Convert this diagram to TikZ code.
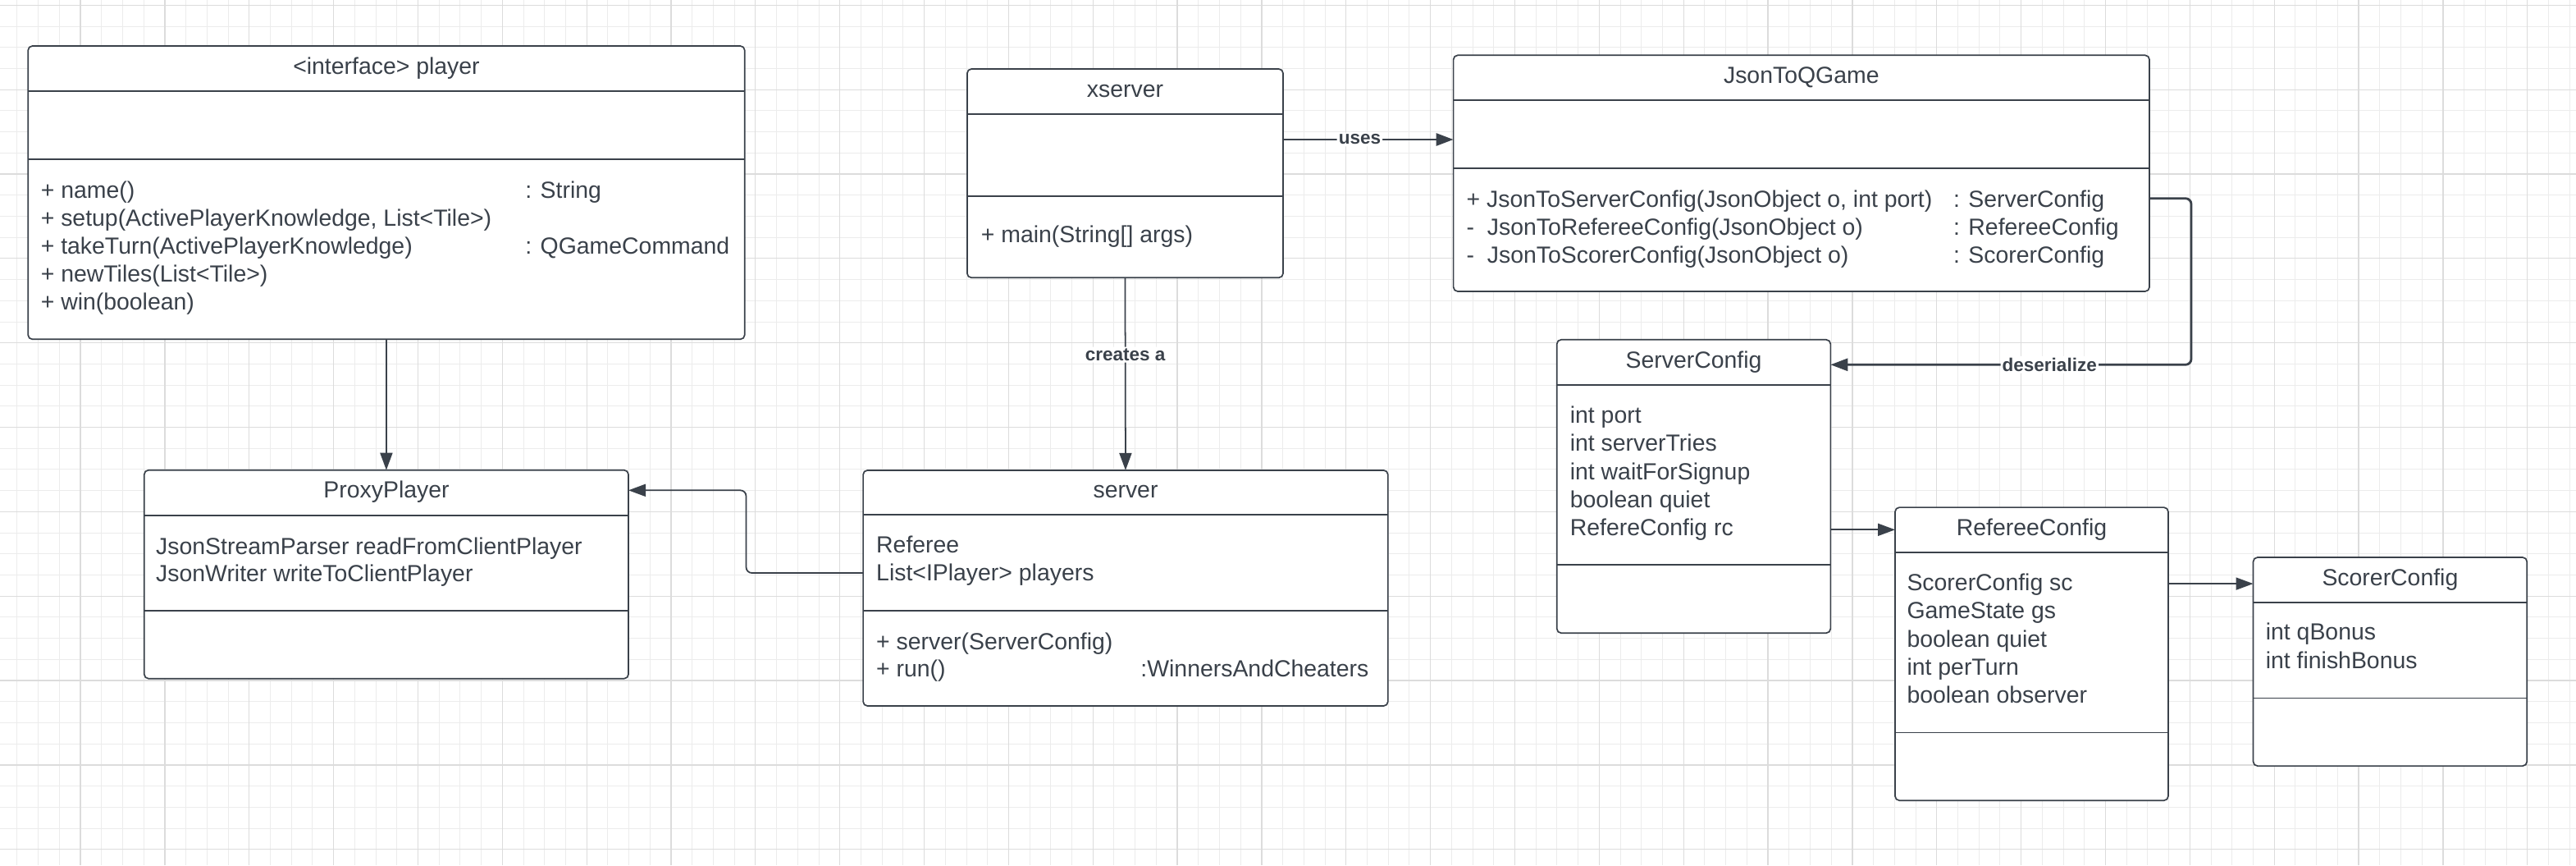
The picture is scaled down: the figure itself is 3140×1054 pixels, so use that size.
\documentclass[tikz,border=0pt]{standalone}
\usepackage{fontspec}
\setmainfont{Liberation Sans}
\usetikzlibrary{arrows.meta}

\definecolor{ink}{HTML}{3A414A}
\definecolor{gridminor}{HTML}{ECECEC}
\definecolor{gridmajor}{HTML}{DCDCDC}

\tikzset{
  classbox/.style={draw=ink, fill=white, line width=0.48pt, rounded corners=1.5pt,
                   inner sep=0pt, outer sep=0pt},
  boxrule/.style={draw=ink, line width=0.48pt},
  txt/.style={text=ink, inner sep=0pt, outer sep=0pt, font=\fontsize{8.08}{9.7}\selectfont},
  ttl/.style={txt, anchor=base},
  row/.style={txt, anchor=base west},
  lbl/.style={text=ink, fill=white, inner sep=0.6pt, font=\bfseries\fontsize{6.4}{7.7}\selectfont},
  conn/.style={draw=ink, line width=0.5pt, rounded corners=2pt,
               -{Triangle[length=5.97pt,width=4.27pt]}},
  boldconn/.style={conn, line width=0.8pt},
  minorline/.style={draw=gridminor, line width=0.28pt},
  majorline/.style={draw=gridmajor, line width=0.36pt},
}

% class box: name, left, top, right, bottom, first rule, second rule
\newcommand{\umlclass}[7]{%
  \pgfmathsetmacro{\bw}{(#4-#2)*0.01}%
  \pgfmathsetmacro{\bh}{(#5-#3)*0.01}%
  \node[classbox, anchor=north west, minimum width=\bw cm, minimum height=\bh cm] (#1) at (#2,#3) {};
  \draw[boxrule] (#1.west |- 0,#6) -- (#1.east |- 0,#6);
  \draw[boxrule] (#1.west |- 0,#7) -- (#1.east |- 0,#7);
}

\begin{document}
\begin{tikzpicture}[x=0.01cm, y=-0.01cm]
\useasboundingbox (0,0) rectangle (3140,1054);
\fill[white] (0,0) rectangle (3140,1054);

% background grid
\foreach \i in {0,...,122} \draw[minorline] ({-4.8+25.7125*\i},0) -- ({-4.8+25.7125*\i},1054);
\foreach \j in {0,...,41} \draw[minorline] (0,{6.3+25.7125*\j}) -- (3140,{6.3+25.7125*\j});
\foreach \i in {0,...,31} \draw[majorline] ({-4.8+102.85*\i},0) -- ({-4.8+102.85*\i},1054);
\foreach \j in {0,...,10} \draw[majorline] (0,{6.3+102.85*\j}) -- (3140,{6.3+102.85*\j});

% ---- classes ----
\umlclass{player}{34.2}{56}{907.7}{413.3}{111}{194}
\node[ttl] (player-t) at (471,90) {<interface> player};
\node[row] (player-m1) at (49.8,241) {+ name()};
\node[row] (player-m2) at (49.8,275.2) {+ setup(ActivePlayerKnowledge, List<Tile>)};
\node[row] (player-m3) at (49.8,309.4) {+ takeTurn(ActivePlayerKnowledge)};
\node[row] (player-m4) at (49.8,343.6) {+ newTiles(List<Tile>)};
\node[row] (player-m5) at (49.8,377.8) {+ win(boolean)};
\node[row] (player-r1) at (640.3,241) {: String};
\node[row] (player-r3) at (640.3,309.4) {: QGameCommand};

\umlclass{xserver}{1178.9}{84}{1564}{338.3}{139}{239}
\node[ttl] (xserver-t) at (1371.5,118) {xserver};
\node[row] (xserver-m1) at (1195.9,295.2) {+ main(String[] args)};

\umlclass{jq}{1771.6}{67.3}{2620}{355}{122.3}{205}
\node[ttl] (jq-t) at (2195.8,101.8) {JsonToQGame};
\node[row] (jq-m1) at (1787.6,252) {+ JsonToServerConfig(JsonObject o, int port)};
\node[row] (jq-m2) at (1787.6,286.3) {-\ \ JsonToRefereeConfig(JsonObject o)};
\node[row] (jq-m3) at (1787.6,320.6) {-\ \ JsonToScorerConfig(JsonObject o)};
\node[row] (jq-r1) at (2381,252) {: ServerConfig};
\node[row] (jq-r2) at (2381,286.3) {: RefereeConfig};
\node[row] (jq-r3) at (2381,320.6) {: ScorerConfig};

\umlclass{scfg}{1897.7}{413.8}{2231.3}{771.2}{468.9}{688.2}
\node[ttl] (scfg-t) at (2064.5,448) {ServerConfig};
\node[row] (scfg-a1) at (1913.8,515.7) {int port};
\node[row] (scfg-a2) at (1913.8,549.85) {int serverTries};
\node[row] (scfg-a3) at (1913.8,584) {int waitForSignup};
\node[row] (scfg-a4) at (1913.8,618.15) {boolean quiet};
\node[row] (scfg-a5) at (1913.8,652.3) {RefereConfig rc};

\umlclass{rcfg}{2310}{618.1}{2642.9}{975.2}{672.9}{892.5}
\node[ttl] (rcfg-t) at (2476.5,652) {RefereeConfig};
\node[row] (rcfg-a1) at (2324.5,719.3) {ScorerConfig sc};
\node[row] (rcfg-a2) at (2324.5,753.7) {GameState gs};
\node[row] (rcfg-a3) at (2324.5,788.1) {boolean quiet};
\node[row] (rcfg-a4) at (2324.5,822.5) {int perTurn};
\node[row] (rcfg-a5) at (2324.5,856.9) {boolean observer};

\umlclass{scorer}{2746.5}{679}{3080.2}{933.1}{733.7}{850.4}
\node[ttl] (scorer-t) at (2913.4,713) {ScorerConfig};
\node[row] (scorer-a1) at (2761.8,779.7) {int qBonus};
\node[row] (scorer-a2) at (2761.8,814.2) {int finishBonus};

\umlclass{server}{1052.1}{572.9}{1691.8}{860}{627.1}{744.3}
\node[ttl] (server-t) at (1372,606.5) {server};
\node[row] (server-a1) at (1068.2,673.1) {Referee};
\node[row] (server-a2) at (1068.2,707.8) {List<IPlayer> players};
\node[row] (server-m1) at (1068.2,791) {+ server(ServerConfig)};
\node[row] (server-m2) at (1068.2,824.9) {+ run()};
\node[row] (server-r2) at (1390.4,824.9) {:WinnersAndCheaters};

\umlclass{proxy}{175.8}{572.7}{766}{826.7}{627.7}{744}
\node[ttl] (proxy-t) at (471,606.7) {ProxyPlayer};
\node[row] (proxy-a1) at (190.2,675.2) {JsonStreamParser readFromClientPlayer};
\node[row] (proxy-a2) at (190.2,708.5) {JsonWriter writeToClientPlayer};

% ---- connectors ----
\draw[conn] (player.south) -- (proxy.north);
\draw[conn] (xserver.south) -- node[lbl, pos=0.4] (creates-l) {creates a} (server.north);
\draw[boldconn] (xserver.east |- 0,170) -- node[lbl, pos=0.45] (uses-l) {uses} (jq.west |- 0,170);
\draw[boldconn] (jq.east |- 0,241.7) -- (2671,241.7) -- (2671,444.3)
  -- node[lbl, pos=0.393] (deser-l) {deserialize} (scfg.east |- 0,444.3);
\draw[conn] (server.west |- 0,698) -| (909.5,597.3) -- (proxy.east |- 0,597.3);
\draw[conn] (scfg.east |- 0,645.3) -- (rcfg.west |- 0,645.3);
\draw[conn] (rcfg.east |- 0,711.1) -- (scorer.west |- 0,711.1);
\end{tikzpicture}
\end{document}
